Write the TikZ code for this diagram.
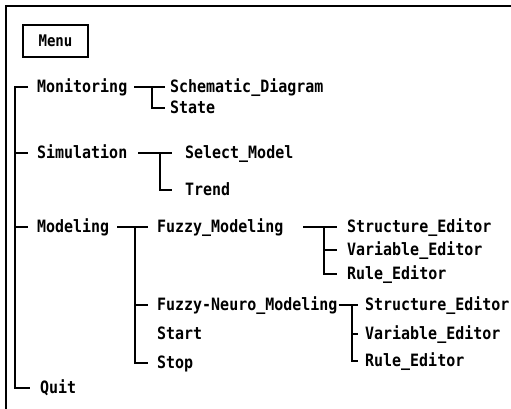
\documentclass[tikz,border=0pt]{standalone}
\usepackage{fontspec}
\newfontfamily\treefont[FakeStretch=0.88]{DejaVu Sans Mono}
\begin{document}
\begin{tikzpicture}[x=1pt,y=-1pt,
  lbl/.style={anchor=west,inner sep=0pt,font=\treefont\bfseries\fontsize{17}{18}\selectfont,text height=12pt,text depth=1pt},
  menubox/.style={draw,line width=1.2pt,minimum width=65pt,minimum height=32pt,inner sep=0pt,font=\treefont\bfseries\fontsize{16}{18}\selectfont},
  ln/.style={line width=1.3pt},
  framel/.style={line width=2pt}]
\useasboundingbox (0,0) rectangle (511,409);
% frame
\coordinate (fTR) at (511,6);
\coordinate (fTL) at (6,6);
\coordinate (fBL) at (6,409);
\draw[framel] (fTR) -- (fTL) -- (fBL);
% nodes
\node[menubox] (menu) at (55.5,41) {Menu};
\node[lbl] (mon) at (37,87) {Monitoring};
\node[lbl] (schem) at (170,87) {Schematic\_Diagram};
\node[lbl] (state) at (170,108) {State};
\node[lbl] (sim) at (37,153) {Simulation};
\node[lbl] (selm) at (185,153) {Select\_Model};
\node[lbl] (trend) at (185,190) {Trend};
\node[lbl] (mod) at (37,227) {Modeling};
\node[lbl] (fmod) at (157,227) {Fuzzy\_Modeling};
\node[lbl] (se1) at (347,227) {Structure\_Editor};
\node[lbl] (ve1) at (347,250) {Variable\_Editor};
\node[lbl] (re1) at (347,274) {Rule\_Editor};
\node[lbl] (fnm) at (157,305) {Fuzzy-Neuro\_Modeling};
\node[lbl] (start) at (157,334) {Start};
\node[lbl] (stop) at (157,363) {Stop};
\node[lbl] (se2) at (365,305) {Structure\_Editor};
\node[lbl] (ve2) at (365,334) {Variable\_Editor};
\node[lbl] (re2) at (365,361) {Rule\_Editor};
\node[lbl] (quit) at (40,388) {Quit};
% junction columns
\coordinate (trunk) at (15,0);
\coordinate (j1) at (152,0);
\coordinate (j2) at (160,0);
\coordinate (j3) at (135,0);
\coordinate (j4) at (324,0);
\coordinate (j5) at (352,0);
% main trunk
\draw[ln] ([xshift=-9pt]mon.west) -| (trunk |- quit.west) -- ([xshift=-10pt]quit.west);
\draw[ln] (trunk |- sim.west) -- ([xshift=-9pt]sim.west);
\draw[ln] (trunk |- mod.west) -- ([xshift=-9pt]mod.west);
% Monitoring
\draw[ln] ([xshift=7pt]mon.east) -- ([xshift=-5pt]schem.west);
\draw[ln] (j1 |- schem.west) |- ([xshift=-5pt]state.west);
% Simulation
\draw[ln] ([xshift=11pt]sim.east) -- ([xshift=-13pt]selm.west);
\draw[ln] (j2 |- selm.west) |- ([xshift=-13pt]trend.west);
% Modeling
\draw[ln] ([xshift=8pt]mod.east) -- ([xshift=-9pt]fmod.west);
\draw[ln] (j3 |- fmod.west) |- ([xshift=-9pt]stop.west);
\draw[ln] (j3 |- fnm.west) -- ([xshift=-9pt]fnm.west);
% Fuzzy_Modeling
\draw[ln] ([xshift=20pt]fmod.east) -- ([xshift=-10pt]se1.west);
\draw[ln] (j4 |- se1.west) |- ([xshift=-10pt]re1.west);
\draw[ln] (j4 |- ve1.west) -- ([xshift=-10pt]ve1.west);
% Fuzzy-Neuro_Modeling
\draw[ln] ([xshift=1pt]fnm.east) -- ([xshift=-7pt]se2.west);
\draw[ln] (j5 |- se2.west) |- ([xshift=-7pt]re2.west);
\draw[ln] (j5 |- ve2.west) -- ([xshift=-7pt]ve2.west);
\end{tikzpicture}
\end{document}
